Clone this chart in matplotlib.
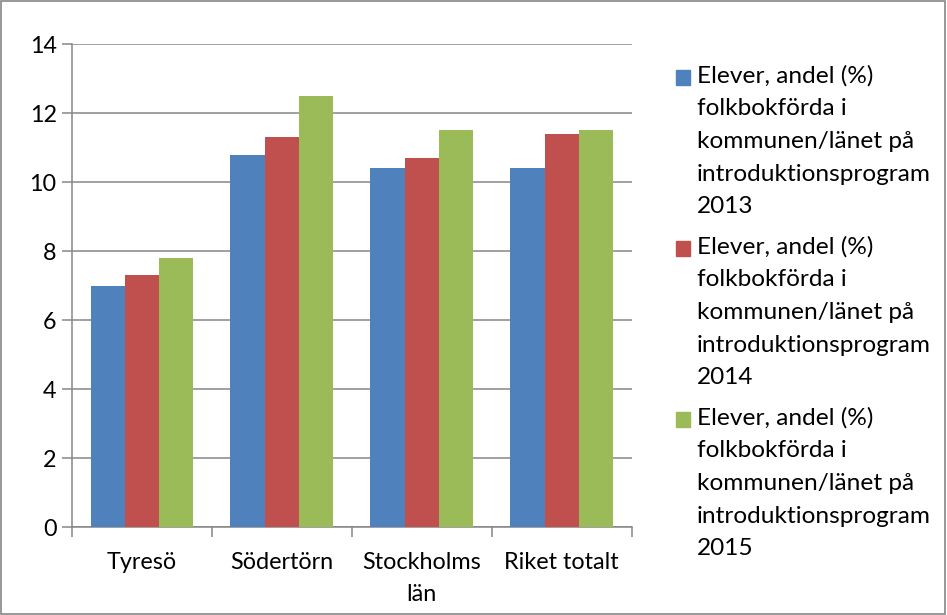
import numpy as np
import matplotlib.pyplot as plt
from matplotlib.patches import Rectangle

plt.rcParams['font.family'] = ['Lato', 'DejaVu Sans']

categories = ['Tyresö', 'Södertörn', 'Stockholms\nlän', 'Riket totalt']
years = ['2013', '2014', '2015']
vals_2013 = [7.0, 10.8, 10.4, 10.4]
vals_2014 = [7.3, 11.3, 10.7, 11.4]
vals_2015 = [7.8, 12.5, 11.5, 11.5]
series = [vals_2013, vals_2014, vals_2015]
colors = ['#4F81BD', '#C0504D', '#9BBB59']
label_base = 'Elever, andel (%)\nfolkbokförda i\nkommunen/länet på\nintroduktionsprogram\n'

grid_col = '#868686'
fs = 16.8
leg_fs = 17.6

fig = plt.figure(figsize=(9.47, 6.15), dpi=100)
ax = fig.add_axes([0.076, 0.143, 0.591, 0.785])

x = np.arange(len(categories))
w = 0.245
for i, (vals, c) in enumerate(zip(series, colors)):
    ax.bar(x + (i - 1) * w, vals, w, color=c, zorder=3)

ax.set_xlim(-0.5, len(categories) - 0.5)
ax.set_ylim(0, 14)
ax.set_yticks(np.arange(0, 15, 2))
ax.yaxis.grid(True, color=grid_col, linewidth=1.1, zorder=0)

ax.set_xticks(x)
ax.set_xticklabels(categories, fontsize=fs, linespacing=1.65)
ax.tick_params(axis='x', length=0, pad=18)
ax.set_xticks(np.arange(-0.5, len(categories)), minor=True)
ax.tick_params(axis='x', which='minor', length=7, color=grid_col, width=1.1)
ax.tick_params(axis='y', length=7, color=grid_col, width=1.1, labelsize=fs, pad=4)

for s in ['top', 'right']:
    ax.spines[s].set_visible(False)
for s in ['left', 'bottom']:
    ax.spines[s].set_color(grid_col)
    ax.spines[s].set_linewidth(1.1)

# legend drawn by hand so the swatch sits on the first text line
W, H = 947, 615
for i, (yr, c) in enumerate(zip(years, colors)):
    top = 70 + i * 171
    fig.patches.append(Rectangle((676 / W, 1 - (top + 15) / H), 14 / W, 15 / H,
                                 transform=fig.transFigure, color=c))
    fig.text(697 / W, 1 - (top - 5) / H, label_base + yr, fontsize=leg_fs,
             va='top', ha='left', linespacing=1.69)

# outer chart border
fig.patches.append(Rectangle((0.001, 0.001), 0.997, 0.997, transform=fig.transFigure,
                             fill=False, edgecolor=grid_col, linewidth=1.2))

fig.savefig('out.png', dpi=100)
